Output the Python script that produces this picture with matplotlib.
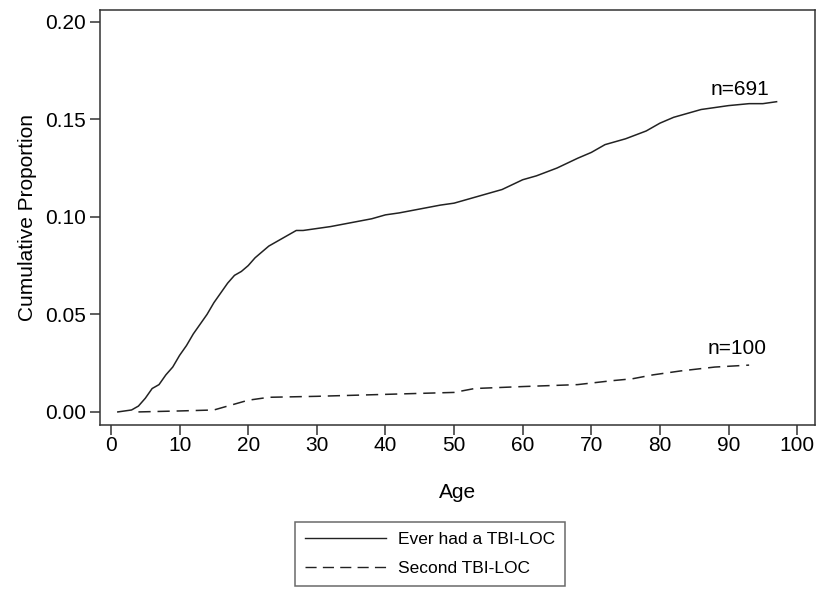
import matplotlib.pyplot as plt

plt.rcParams['font.family'] = ['Liberation Sans', 'DejaVu Sans']

# Cumulative proportion, ever had a TBI-LOC
age_any = [1, 3, 4, 5, 6, 7, 8, 9, 10, 11, 12, 13, 14, 15, 16, 17, 18, 19, 20,
           21, 22, 23, 24, 25, 26, 27, 28, 30, 32, 35, 38, 40, 42, 45, 48, 50,
           52, 55, 57, 60, 62, 65, 68, 70, 72, 75, 78, 80, 82, 84, 86, 88, 90,
           93, 95, 97]
prop_any = [0.000, 0.001, 0.003, 0.007, 0.012, 0.014, 0.019, 0.023, 0.029,
            0.034, 0.040, 0.045, 0.050, 0.056, 0.061, 0.066, 0.070, 0.072,
            0.075, 0.079, 0.082, 0.085, 0.087, 0.089, 0.091, 0.093, 0.093,
            0.094, 0.095, 0.097, 0.099, 0.101, 0.102, 0.104, 0.106, 0.107,
            0.109, 0.112, 0.114, 0.119, 0.121, 0.125, 0.130, 0.133, 0.137,
            0.140, 0.144, 0.148, 0.151, 0.153, 0.155, 0.156, 0.157, 0.158,
            0.158, 0.159]

# Second TBI-LOC
age_second = [4, 10, 15, 17, 20, 23, 30, 40, 50, 53, 60, 68, 73, 76, 79, 83,
              88, 93]
prop_second = [0.000, 0.0005, 0.001, 0.003, 0.006, 0.0075, 0.008, 0.009,
               0.010, 0.012, 0.013, 0.014, 0.016, 0.017, 0.019, 0.021, 0.023,
               0.024]

fig = plt.figure(figsize=(8.22, 5.93), dpi=100)
ax = fig.add_axes([100 / 822, 1 - 425 / 593, 715 / 822, 415 / 593])

ax.plot(age_any, prop_any, color='#222222', lw=1.1, label='Ever had a TBI-LOC')
ax.plot(age_second, prop_second, color='#222222', lw=1.1, ls=(0, (8, 4.5)),
        label='Second TBI-LOC')

ax.text(96, 0.1605, 'n=691', ha='right', va='bottom', fontsize=15)
ax.text(95.5, 0.0275, 'n=100', ha='right', va='bottom', fontsize=15)

ax.set_xlim(-1.6, 102.6)
ax.set_ylim(-0.0067, 0.206)
ax.set_xticks(range(0, 101, 10))
ax.set_yticks([0.00, 0.05, 0.10, 0.15, 0.20])
ax.set_yticklabels(['0.00', '0.05', '0.10', '0.15', '0.20'])
ax.tick_params(labelsize=15, length=7, width=1.1, color='#333333', pad=3)
ax.tick_params(axis='x', pad=1)
ax.set_xlabel('Age', fontsize=15, labelpad=20)
ax.set_ylabel('Cumulative Proportion', fontsize=15, labelpad=6)
for s in ax.spines.values():
    s.set_color('#333333')
    s.set_linewidth(1.1)

leg = fig.legend(loc='center', bbox_to_anchor=(430 / 822, 1 - 554 / 593),
                 fontsize=12.5, frameon=True, fancybox=False,
                 edgecolor='#444444', handlelength=4.7, handletextpad=0.7,
                 borderpad=0.55, labelspacing=0.8)
leg.get_frame().set_linewidth(1.1)
for h in leg.get_lines():
    h.set_linewidth(1.0)

fig.savefig('out.png', dpi=100)
